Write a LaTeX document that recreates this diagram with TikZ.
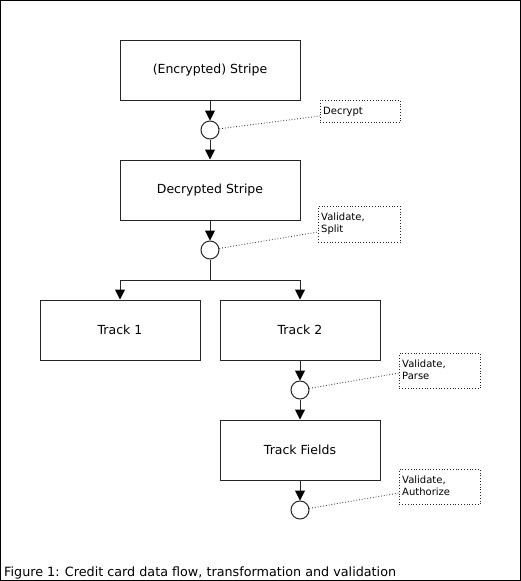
\documentclass[tikz,border=0pt]{standalone}
\usepackage{fontspec}
\setmainfont{DejaVu Sans}
\usetikzlibrary{arrows.meta}
\begin{document}
\begin{tikzpicture}[x=1pt,y=-1pt,
  box/.style={draw=black!85, line width=1pt, minimum width=180pt, minimum height=60pt, inner sep=0pt, font=\fontsize{12.5}{15}\selectfont},
  tbox/.style={box, minimum width=160pt},
  circ/.style={draw=black!85, line width=1pt, circle, minimum size=18pt, inner sep=0pt},
  note/.style={draw=black!85, dotted, line width=0.8pt, inner sep=0pt, anchor=north west},
  notetext/.style={anchor=north west, inner sep=0pt, align=left, font=\fontsize{10}{12}\selectfont},
  arr/.style={draw=black!85, line width=1pt, -{Triangle[length=10pt,width=10pt,color=black]}},
  ln/.style={draw=black!85, line width=1pt},
  dl/.style={draw=black!85, dotted, line width=0.8pt},
]
\useasboundingbox (0,0) rectangle (521,581);
\draw[line width=1pt] (0.5,0.5) rectangle (520.5,580.5);

\node[box] (enc) at (210,70) {(Encrypted) Stripe};
\node[circ] (c1) at (210,130) {};
\node[box] (dec) at (210,190) {Decrypted Stripe};
\node[circ] (c2) at (210,250) {};
\coordinate (s) at (210,280);
\node[tbox] (t1) at (120,330) {Track 1};
\node[tbox] (t2) at (300,330) {Track 2};
\node[circ] (c3) at (300,390) {};
\node[tbox] (tf) at (300,450) {Track Fields};
\node[circ] (c4) at (300,510) {};

\node[note, minimum width=80pt, minimum height=22pt] (n1) at (320,100) {};
\node[notetext] (n1t) at ([shift={(3,7)}]n1.north west) {Decrypt};
\node[note, minimum width=82pt, minimum height=36pt] (n2) at (318,206) {};
\node[notetext] (n2t) at ([shift={(3,7)}]n2.north west) {Validate,\\Split};
\node[note, minimum width=81pt, minimum height=35pt] (n3) at (399,353) {};
\node[notetext] (n3t) at ([shift={(3,7)}]n3.north west) {Validate,\\Parse};
\node[note, minimum width=81pt, minimum height=35pt] (n4) at (399,469) {};
\node[notetext] (n4t) at ([shift={(3,7)}]n4.north west) {Validate,\\Authorize};

\coordinate (e1) at (320,116);
\coordinate (e2) at (318,232);
\coordinate (e3) at (399,373);
\coordinate (e4) at (399,493);

\draw[arr] (enc) -- (c1);
\draw[arr] (c1) -- (dec);
\draw[ln] (c2) -- (s);
\draw[arr] (s) -| (t1);
\draw[arr] (s) -| (t2);
\draw[arr] (dec) -- (c2);
\draw[arr] (t2) -- (c3);
\draw[arr] (c3) -- (tf);
\draw[arr] (tf) -- (c4);

\draw[dl] (c1) -- (e1);
\draw[dl] (c2) -- (e2);
\draw[dl] (c3) -- (e3);
\draw[dl] (c4) -- (e4);

\node[anchor=base west, inner sep=0pt, font=\fontsize{12.75}{15}\selectfont] (cap) at (4,576) {Figure 1: Credit card data flow, transformation and validation};
\end{tikzpicture}
\end{document}
